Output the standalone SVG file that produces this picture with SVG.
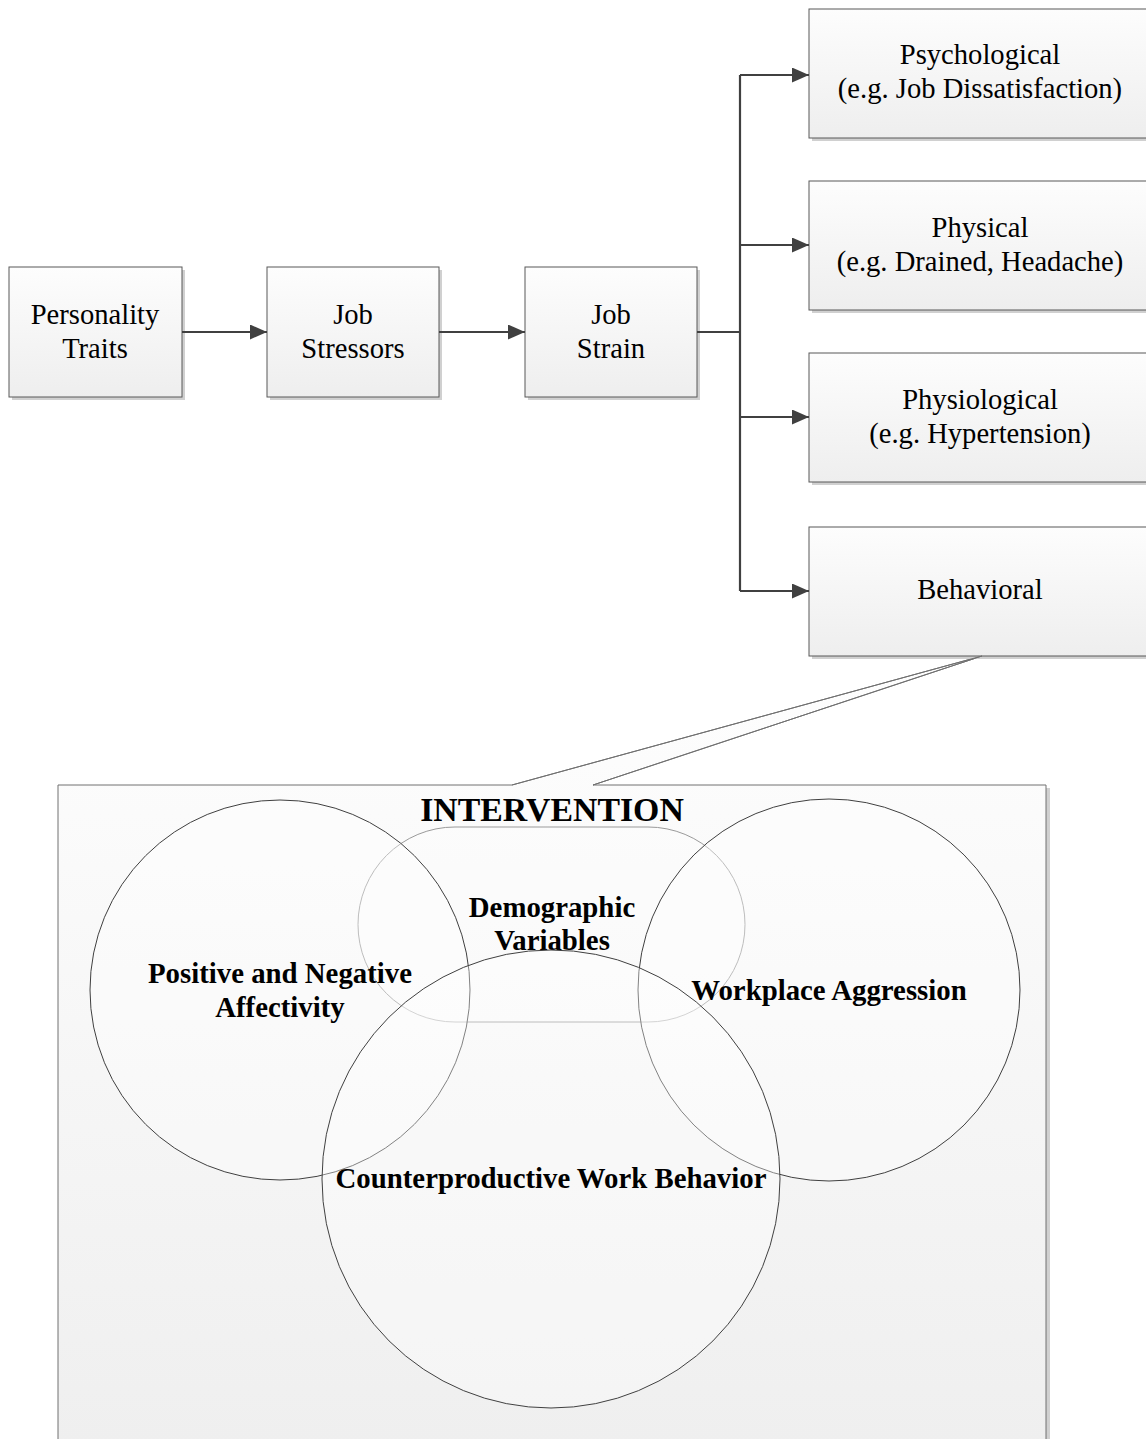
<svg xmlns="http://www.w3.org/2000/svg" width="1146" height="1439" viewBox="0 0 1146 1439">
<style>
.box{fill:url(#g);stroke:#595959;stroke-width:1}
.sh{fill:#d0d0d0}
.t{font-family:"Liberation Serif",serif;font-size:28.6px;fill:#000;text-anchor:middle}
.b{font-family:"Liberation Serif",serif;font-size:28.8px;font-weight:bold;fill:#000;text-anchor:middle}
.c{fill:none;stroke:#404040;stroke-width:2.2}
.v{fill:#fff;fill-opacity:0.35;stroke:#404040;stroke-width:1}
</style>
<defs>
<linearGradient id="g" x1="0" y1="0" x2="0" y2="1"><stop offset="0" stop-color="#fdfdfd"/><stop offset="1" stop-color="#eeeeee"/></linearGradient>
<linearGradient id="g2" x1="0" y1="0" x2="0" y2="1"><stop offset="0" stop-color="#fefefe"/><stop offset="1" stop-color="#efefef"/></linearGradient>
<marker id="a" markerWidth="17" markerHeight="15" refX="17" refY="7.5" orient="auto" markerUnits="userSpaceOnUse"><path d="M0,0 L17,7.5 L0,15 Z" fill="#404040"/></marker>
</defs>
<rect width="1146" height="1439" fill="#fff"/>

<g id="intervention">
<path d="M61,788 H1050 V1439 H61 Z" class="sh"/>
<path d="M58,785 H512 L982,656 L593,785 H1046 V1442 H58 Z" fill="url(#g2)" stroke="#707070" stroke-width="1"/>
<text class="b" x="552" y="821" style="font-size:33.8px">INTERVENTION</text>
</g>

<g id="demographic">
<rect x="358" y="827" width="387" height="195" rx="97" ry="97.5" fill="#fff" fill-opacity="0.3" stroke="#9a9a9a" stroke-width="1"/>
<text class="b" x="552" y="917">Demographic</text>
<text class="b" x="552" y="950">Variables</text>
</g>
<g id="affectivity">
<circle cx="280" cy="990" r="190" class="v"/>
<text class="b" x="280" y="983">Positive and Negative</text>
<text class="b" x="280" y="1017">Affectivity</text>
</g>
<g id="aggression">
<circle cx="829" cy="990" r="191" class="v"/>
<text class="b" x="829" y="1000">Workplace Aggression</text>
</g>
<g id="cwb">
<circle cx="551" cy="1179" r="229" class="v"/>
<text class="b" x="551" y="1188">Counterproductive Work Behavior</text>
</g>

<g id="personality">
<rect x="12" y="270" width="173" height="130" class="sh"/>
<rect x="9" y="267" width="173" height="130" class="box"/>
<text class="t" x="95" y="324">Personality</text>
<text class="t" x="95" y="358">Traits</text>
</g>
<g id="stressors">
<rect x="270" y="270" width="172" height="130" class="sh"/>
<rect x="267" y="267" width="172" height="130" class="box"/>
<text class="t" x="353" y="324">Job</text>
<text class="t" x="353" y="358">Stressors</text>
</g>
<g id="strain">
<rect x="528" y="270" width="172" height="130" class="sh"/>
<rect x="525" y="267" width="172" height="130" class="box"/>
<text class="t" x="611" y="324">Job</text>
<text class="t" x="611" y="358">Strain</text>
</g>
<g id="psychological">
<rect x="812" y="12" width="340" height="129" class="sh"/>
<rect x="809" y="9" width="345" height="129" class="box"/>
<text class="t" x="980" y="64">Psychological</text>
<text class="t" x="980" y="98">(e.g. Job Dissatisfaction)</text>
</g>
<g id="physical">
<rect x="812" y="184" width="340" height="129" class="sh"/>
<rect x="809" y="181" width="345" height="129" class="box"/>
<text class="t" x="980" y="237">Physical</text>
<text class="t" x="980" y="271">(e.g. Drained, Headache)</text>
</g>
<g id="physiological">
<rect x="812" y="356" width="340" height="129" class="sh"/>
<rect x="809" y="353" width="345" height="129" class="box"/>
<text class="t" x="980" y="409">Physiological</text>
<text class="t" x="980" y="443">(e.g. Hypertension)</text>
</g>
<g id="behavioral">
<rect x="812" y="530" width="340" height="129" class="sh"/>
<rect x="809" y="527" width="345" height="129" class="box"/>
<path d="M512,785 L982,656 L593,785" fill="none" stroke="#707070" stroke-width="1"/>
<text class="t" x="980" y="599">Behavioral</text>
</g>

<g id="connectors">
<path d="M182,332 H267" class="c" marker-end="url(#a)"/>
<path d="M439,332 H525" class="c" marker-end="url(#a)"/>
<path d="M697,332 H740" class="c"/>
<path d="M740,75 V591" class="c"/>
<path d="M740,75 H809" class="c" marker-end="url(#a)"/>
<path d="M740,245 H809" class="c" marker-end="url(#a)"/>
<path d="M740,417 H809" class="c" marker-end="url(#a)"/>
<path d="M740,591 H809" class="c" marker-end="url(#a)"/>
</g>
</svg>
